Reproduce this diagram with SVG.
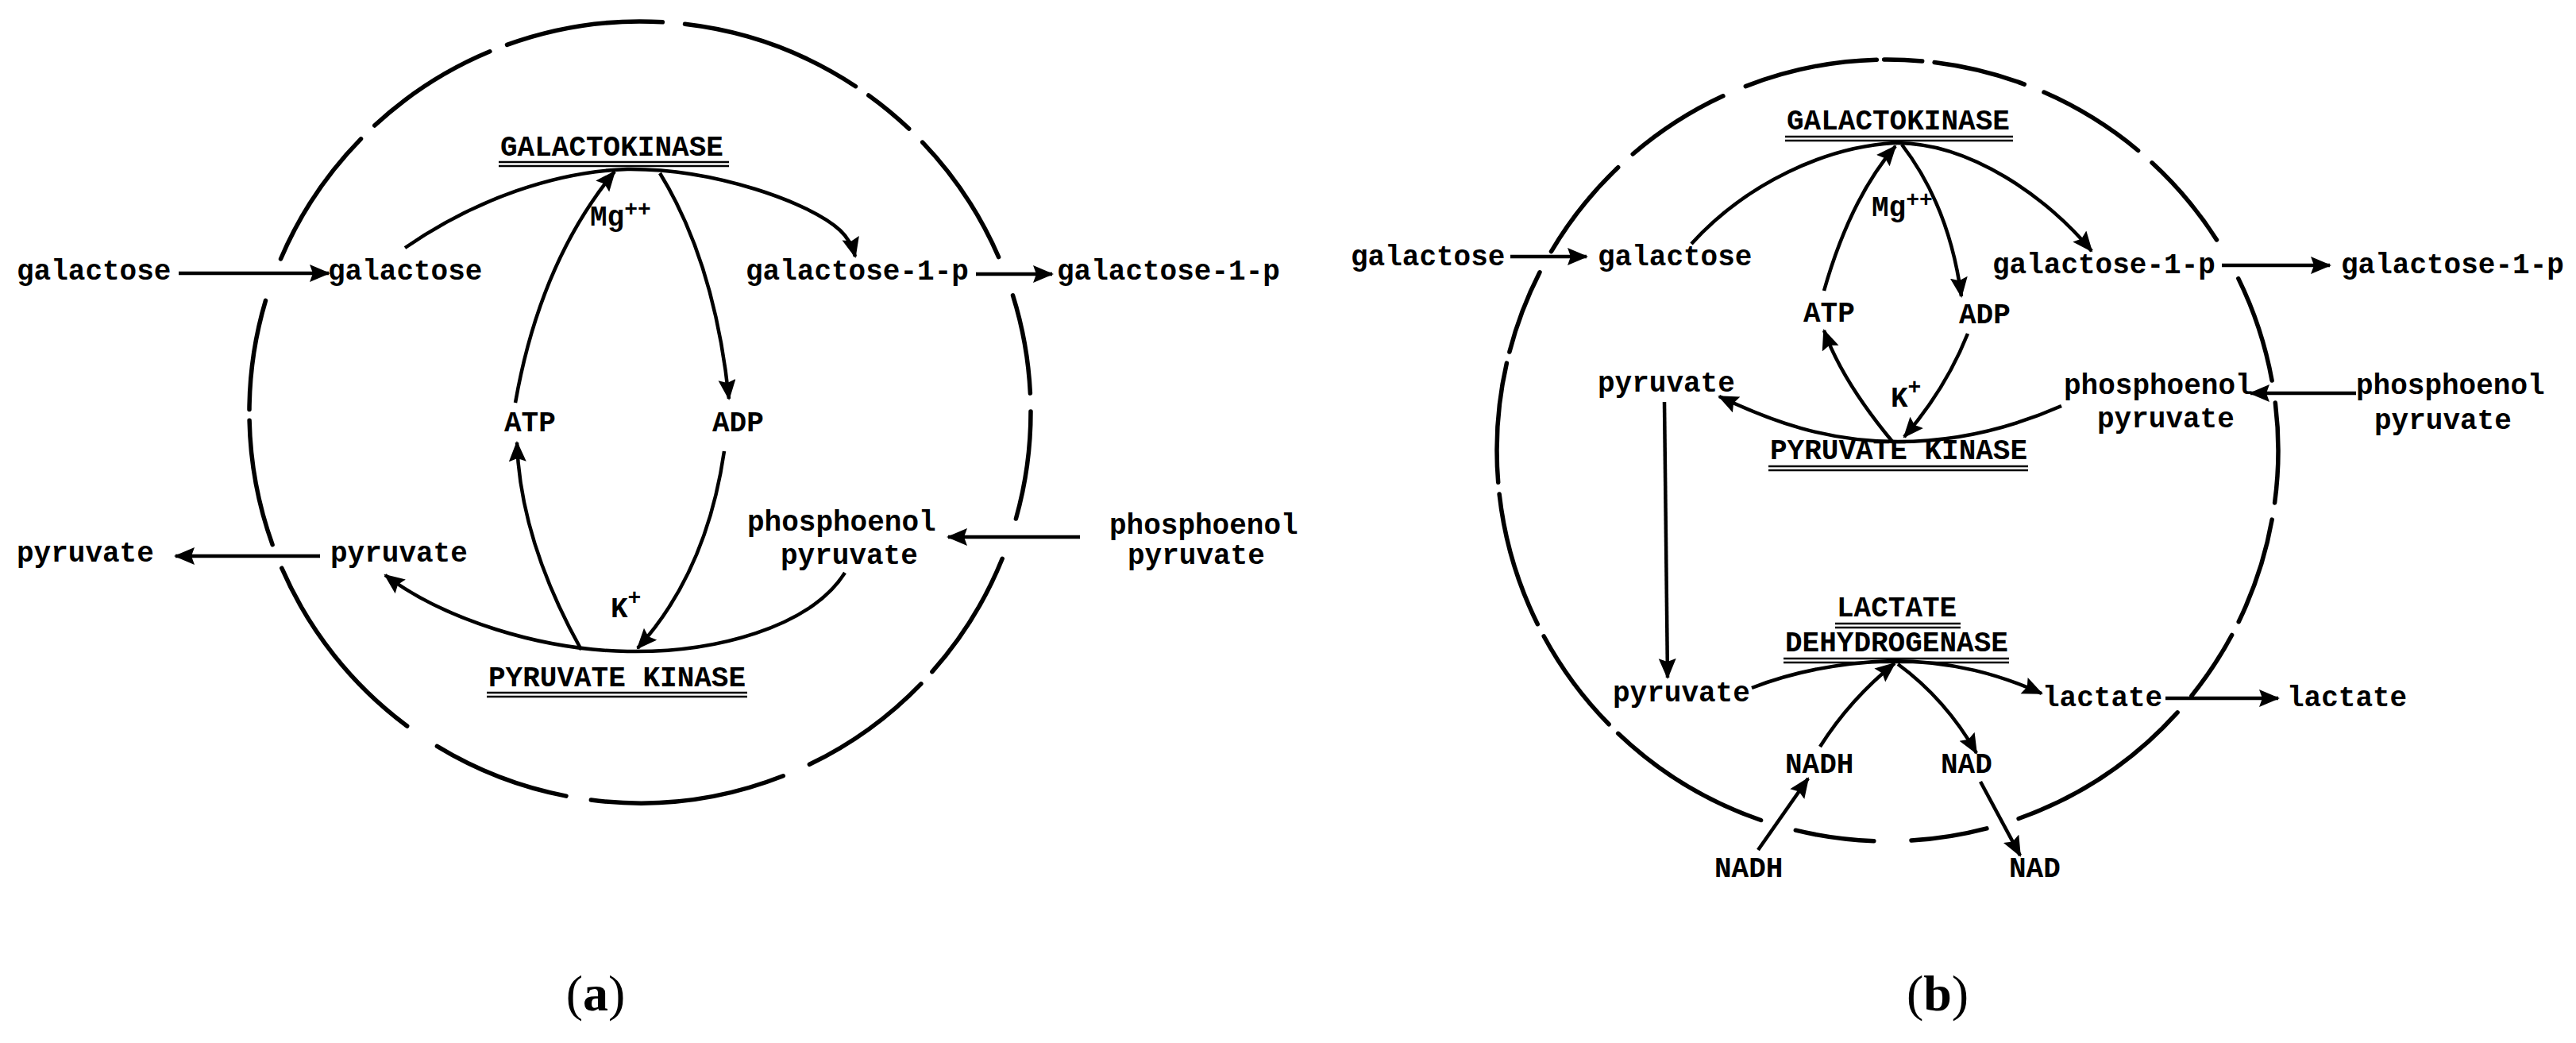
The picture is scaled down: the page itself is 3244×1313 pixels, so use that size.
<svg xmlns="http://www.w3.org/2000/svg" width="3244" height="1313" viewBox="0 0 3244 1313">
<defs>
<marker id="ah" markerUnits="userSpaceOnUse" markerWidth="28" markerHeight="24" refX="24" refY="11" orient="auto">
<path d="M0,0 L26,11 L0,22 L4,11 Z" fill="#000"/>
</marker>
<style>
text{font-family:"Liberation Mono","Courier New",monospace;font-size:36px;fill:#000;font-weight:bold}
.sup{font-size:28px}
.cap{font-family:"Liberation Serif","Times New Roman",serif;font-size:64px;font-weight:normal}
.mem{fill:none;stroke:#000;stroke-width:5.5;stroke-linecap:round}
.c{fill:none;stroke:#000;stroke-width:4.5;marker-end:url(#ah)}
.ul{stroke:#000;stroke-width:2.5}
</style>
</defs>
<rect width="3244" height="1313" fill="#fff"/>

<g id="membrane-a" class="mem">
<path d="M638.5,56.4 A492,492 0 0 1 834.3,27.8"/>
<path d="M862.5,30.3 A492,492 0 0 1 1077.5,108.7"/>
<path d="M1093.8,120 A492,492 0 0 1 1144.7,162.1"/>
<path d="M1161.7,179.1 A492,492 0 0 1 1257.6,323.6"/>
<path d="M1275.5,371.9 A492,492 0 0 1 1297.4,495"/>
<path d="M1298,518.1 A492,492 0 0 1 1279.4,653"/>
<path d="M1262.2,703.3 A492,492 0 0 1 1173.9,845.6"/>
<path d="M1159.9,860.8 A492,492 0 0 1 1019.4,962.3"/>
<path d="M986.3,976.8 A492,492 0 0 1 744.3,1007.1"/>
<path d="M713,1002.1 A492,492 0 0 1 550.4,939.4"/>
<path d="M512.7,914 A492,492 0 0 1 354.8,715.2"/>
<path d="M343.1,685.6 A492,492 0 0 1 314.1,529.3"/>
<path d="M314,515.6 A492,492 0 0 1 334.5,378.4"/>
<path d="M353.5,326 A492,492 0 0 1 454.5,174.8"/>
<path d="M471.7,158 A492,492 0 0 1 616.9,64.8"/>
</g>

<g id="membrane-b" class="mem">
<path d="M2198.3,108.6 A492,492 0 0 1 2363.3,75.2"/>
<path d="M2372.7,75 A492,492 0 0 1 2420.7,77"/>
<path d="M2436.1,78.5 A492,492 0 0 1 2549.3,106.1"/>
<path d="M2574,116.1 A492,492 0 0 1 2692.6,189.5"/>
<path d="M2710,204.8 A492,492 0 0 1 2791.5,301.9"/>
<path d="M2818.8,350.6 A492,492 0 0 1 2861.1,479"/>
<path d="M2865.3,507 A492,492 0 0 1 2864.6,632.9"/>
<path d="M2861.2,654.1 A492,492 0 0 1 2819.2,782.7"/>
<path d="M2810.6,799.5 A492,492 0 0 1 2759.9,876"/>
<path d="M2742.1,896.8 A492,492 0 0 1 2542.1,1030.5"/>
<path d="M2501.9,1042.9 A492,492 0 0 1 2407,1058.1"/>
<path d="M2359.8,1058.7 A492,492 0 0 1 2261.3,1045.2"/>
<path d="M2217.6,1032.5 A492,492 0 0 1 2037.7,923.3"/>
<path d="M2026.1,911.8 A492,492 0 0 1 1944.2,801"/>
<path d="M1936.3,785.7 A492,492 0 0 1 1888.1,621.9"/>
<path d="M1886.7,607.3 A492,492 0 0 1 1897.4,457.1"/>
<path d="M1900.9,443 A492,492 0 0 1 1939,342.8"/>
<path d="M1953.5,316.6 A492,492 0 0 1 2037.7,210.7"/>
<path d="M2056.2,194 A492,492 0 0 1 2169.9,120.8"/>
</g>

<g id="connectors">
<path class="c" d="M225,344 L414,344"/>
<path class="c" d="M1229,345 L1325,345"/>
<path class="c" d="M403,700 L221,700"/>
<path class="c" d="M1360,676 L1194,676"/>
<path class="c" d="M510,312 C600,250 700,216 790,213 C900,212 1020,255 1058,290 Q1072,303 1077,323"/>
<path class="c" d="M649,507 Q680,330 774,216"/>
<path class="c" d="M831,218 Q900,330 918,502"/>
<path class="c" d="M732,818 Q655,680 651,557"/>
<path class="c" d="M912,568 Q890,720 803,816"/>
<path class="c" d="M1064,721 C1020,790 900,822 790,820 C680,818 560,780 485,724"/>
<path class="c" d="M1902,323 L1998,323"/>
<path class="c" d="M2798,334 L2934,334"/>
<path class="c" d="M2967,495 L2834,495"/>
<path class="c" d="M2727,879 L2869,879"/>
<path class="c" d="M2130,307 C2200,230 2300,185 2385,180 C2480,178 2580,250 2634,316"/>
<path class="c" d="M2297,366 Q2330,250 2387,184"/>
<path class="c" d="M2395,182 Q2455,260 2470,373"/>
<path class="c" d="M2384,557 Q2320,480 2297,416"/>
<path class="c" d="M2478,420 Q2450,490 2398,550"/>
<path class="c" d="M2596,511 C2530,540 2460,556 2390,556 C2300,556 2230,530 2165,499"/>
<path class="c" d="M2096,506 L2100,853"/>
<path class="c" d="M2206,866 C2260,845 2320,834 2382,832 C2460,832 2520,850 2571,873"/>
<path class="c" d="M2292,940 Q2330,880 2386,835"/>
<path class="c" d="M2390,836 Q2450,880 2489,948"/>
<path class="c" d="M2214,1070 L2277,980"/>
<path class="c" d="M2494,984 L2544,1077"/>
</g>

<g id="a-galactose-out"><text x="21" y="352">galactose</text></g>
<g id="a-galactose-in"><text x="413" y="352">galactose</text></g>
<g id="a-gal1p-in"><text x="939" y="352">galactose-1-p</text></g>
<g id="a-gal1p-out"><text x="1331" y="352">galactose-1-p</text></g>
<g id="a-galactokinase"><text x="630" y="196">GALACTOKINASE</text>
<line class="ul" x1="628" y1="204" x2="918" y2="204"/><line class="ul" x1="628" y1="209" x2="918" y2="209"/></g>
<g id="a-mg"><text x="743" y="284">Mg<tspan class="sup" dy="-12">++</tspan></text></g>
<g id="a-atp"><text x="635" y="543">ATP</text></g>
<g id="a-adp"><text x="897" y="543">ADP</text></g>
<g id="a-pyruvate-out"><text x="21" y="707">pyruvate</text></g>
<g id="a-pyruvate-in"><text x="416" y="707">pyruvate</text></g>
<g id="a-pep-in"><text x="941" y="668">phosphoenol</text><text x="983" y="710">pyruvate</text></g>
<g id="a-pep-out"><text x="1397" y="672">phosphoenol</text><text x="1420" y="710">pyruvate</text></g>
<g id="a-k"><text x="769" y="777">K<tspan class="sup" dy="-16">+</tspan></text></g>
<g id="a-pyruvate-kinase"><text x="615" y="864">PYRUVATE KINASE</text>
<line class="ul" x1="613" y1="872" x2="941" y2="872"/><line class="ul" x1="613" y1="877" x2="941" y2="877"/></g>

<g id="b-galactose-out"><text x="1701" y="334">galactose</text></g>
<g id="b-galactose-in"><text x="2012" y="334">galactose</text></g>
<g id="b-gal1p-in"><text x="2509" y="344">galactose-1-p</text></g>
<g id="b-gal1p-out"><text x="2948" y="344">galactose-1-p</text></g>
<g id="b-galactokinase"><text x="2250" y="163">GALACTOKINASE</text>
<line class="ul" x1="2248" y1="172" x2="2535" y2="172"/><line class="ul" x1="2248" y1="177" x2="2535" y2="177"/></g>
<g id="b-mg"><text x="2357" y="272">Mg<tspan class="sup" dy="-12">++</tspan></text></g>
<g id="b-atp"><text x="2271" y="405">ATP</text></g>
<g id="b-adp"><text x="2467" y="407">ADP</text></g>
<g id="b-pyruvate-top"><text x="2012" y="493">pyruvate</text></g>
<g id="b-pep-in"><text x="2599" y="496">phosphoenol</text><text x="2641" y="538">pyruvate</text></g>
<g id="b-pep-out"><text x="2967" y="496">phosphoenol</text><text x="2990" y="540">pyruvate</text></g>
<g id="b-k"><text x="2381" y="512">K<tspan class="sup" dy="-16">+</tspan></text></g>
<g id="b-pyruvate-kinase"><text x="2229" y="578">PYRUVATE KINASE</text>
<line class="ul" x1="2227" y1="587" x2="2554" y2="587"/><line class="ul" x1="2227" y1="592" x2="2554" y2="592"/></g>
<g id="b-ldh"><text x="2313" y="776">LACTATE</text>
<line class="ul" x1="2311" y1="785" x2="2469" y2="785"/><line class="ul" x1="2311" y1="790" x2="2469" y2="790"/>
<text x="2248" y="820">DEHYDROGENASE</text>
<line class="ul" x1="2246" y1="829" x2="2530" y2="829"/><line class="ul" x1="2246" y1="834" x2="2530" y2="834"/></g>
<g id="b-pyruvate-low"><text x="2031" y="883">pyruvate</text></g>
<g id="b-lactate-in"><text x="2572" y="889">lactate</text></g>
<g id="b-lactate-out"><text x="2880" y="889">lactate</text></g>
<g id="b-nadh-in"><text x="2248" y="973">NADH</text></g>
<g id="b-nadh-out"><text x="2159" y="1104">NADH</text></g>
<g id="b-nad-in"><text x="2444" y="973">NAD</text></g>
<g id="b-nad-out"><text x="2530" y="1104">NAD</text></g>

<g id="caption-a"><text class="cap" x="750" y="1272" text-anchor="middle">(<tspan font-weight="bold">a</tspan>)</text></g>
<g id="caption-b"><text class="cap" x="2440" y="1272" text-anchor="middle">(<tspan font-weight="bold">b</tspan>)</text></g>
</svg>
